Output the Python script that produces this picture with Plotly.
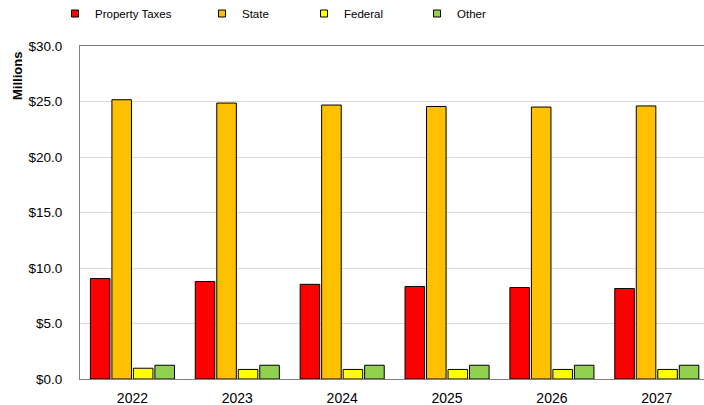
import plotly.graph_objects as go

years = ["2022", "2023", "2024", "2025", "2026", "2027"]
property_taxes = [9.05, 8.78, 8.53, 8.33, 8.24, 8.15]
state = [25.16, 24.86, 24.68, 24.55, 24.50, 24.60]
federal = [0.97, 0.86, 0.86, 0.86, 0.86, 0.86]
other = [1.24, 1.24, 1.24, 1.24, 1.24, 1.24]

series = [
    ("Property Taxes", property_taxes, "#FF0000"),
    ("State", state, "#FFC000"),
    ("Federal", federal, "#FFFF00"),
    ("Other", other, "#92D050"),
]
legend_ids = ["legend", "legend2", "legend3", "legend4"]
legend_square_x = [79, 226, 328, 441]

W, H = 704, 405
fig = go.Figure()
for (name, vals, color) in series:
    fig.add_trace(go.Bar(
        x=years, y=vals, name=name, showlegend=False,
        marker=dict(color=color, line=dict(color="#000000", width=1)),
    ))
for (name, vals, color), lid in zip(series, legend_ids):
    fig.add_trace(go.Scatter(
        x=[None], y=[None], mode="markers", name=name, legend=lid,
        marker=dict(symbol="square", size=7, color=color,
                    line=dict(color="#000000", width=1)),
    ))

legend_layout = {}
for lid, sx in zip(legend_ids, legend_square_x):
    legend_layout[lid] = dict(
        xref="container", yref="container",
        x=(sx - 9) / W, y=1 - 13.5 / H, yanchor="middle", xanchor="left",
        orientation="h", indentation=-15, bgcolor="rgba(0,0,0,0)",
        font=dict(family="Liberation Sans, Arial", size=11.5, color="#000000"),
    )

fig.update_layout(
    width=W, height=H,
    margin=dict(l=80, r=0, t=46, b=25.5, pad=0, autoexpand=False),
    paper_bgcolor="#FFFFFF", plot_bgcolor="#FFFFFF",
    barmode="group", bargap=0.18, bargroupgap=0.09,
    font=dict(family="Liberation Sans, Arial", color="#000000"),
    **legend_layout,
)
fig.update_xaxes(
    type="category", range=[-0.5, 5.45], automargin=False,
    showline=True, linecolor="#808080", linewidth=1, mirror=True,
    showgrid=False, ticks="", tickfont=dict(size=14, color="#000000"),
    ticklabelstandoff=6,
)
fig.update_yaxes(
    range=[0, 30], dtick=5, tickprefix="$", tickformat=".1f", automargin=False,
    showline=True, linecolor="#808080", linewidth=1,
    showgrid=True, gridcolor="#D9D9D9", gridwidth=1,
    ticks="", tickfont=dict(size=13.5, color="#000000"),
    ticklabelstandoff=14, zeroline=False,
)
fig.add_annotation(
    text="<b>Millions</b>", textangle=-90, showarrow=False,
    xref="paper", yref="paper", x=-0.101, y=1.0, xanchor="center", yanchor="top",
    yshift=-4, font=dict(size=13, color="#000000", family="Liberation Sans, Arial"),
)
fig.write_html(
    "out.html",
    config={"displayModeBar": False},
    post_script="document.body.style.margin='0';document.body.style.overflow='hidden';",
)
